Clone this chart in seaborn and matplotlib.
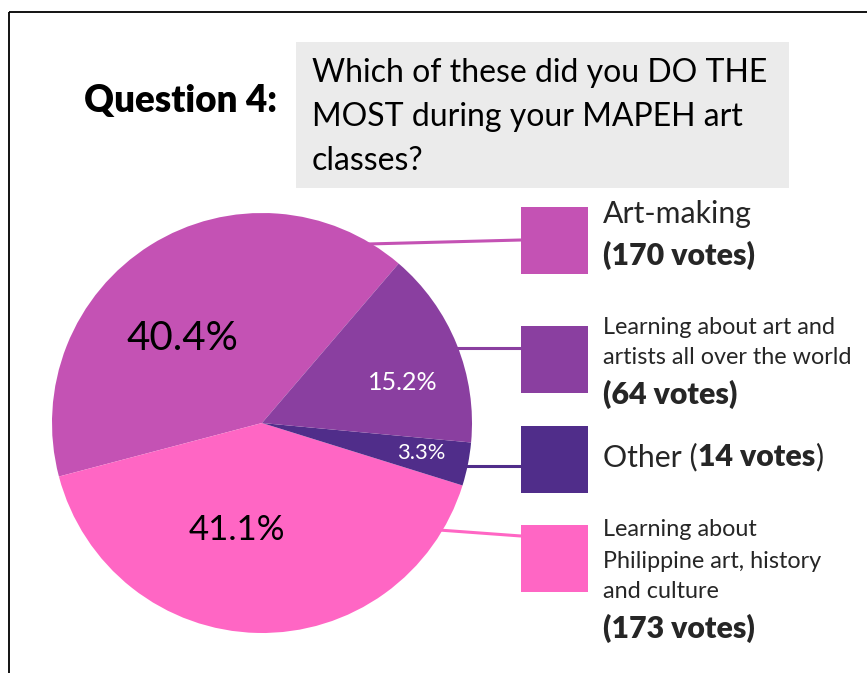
import matplotlib
matplotlib.use("Agg")
import matplotlib.pyplot as plt
import seaborn as sns
import numpy as np

# Survey answers, in the order the wedges are drawn (counter-clockwise)
categories = [
    "Art-making",
    "Learning about Philippine art, history and culture",
    "Other",
    "Learning about art and artists all over the world",
]
votes = [170, 173, 14, 64]
colors = ["#C452B4", "#FF66C4", "#502D8A", "#8A3FA0"]
label_colors = ["black", "black", "white", "white"]

question_no = "Question 4:"
question_lines = ["Which of these did you DO THE",
                  "MOST during your MAPEH art",
                  "classes?"]

sns.set_theme(style="white")
sns.set_palette(colors)
FONT = ["Lato", "DejaVu Sans"]
plt.rcParams["font.family"] = FONT

W, H = 867, 673
fig = plt.figure(figsize=(W / 100, H / 100), dpi=100)
ax = fig.add_axes([0, 0, 1, 1])
ax.set_xlim(0, W)
ax.set_ylim(0, H)
ax.set_aspect("equal")
ax.axis("off")

HEAVY = "heavy"
BIG = 21.8      # legend headline size
SMALL = 16.8    # legend description size


def Y(py):
    """Convert a top-down pixel row into axis y."""
    return H - py


# Frame lines at the top and left
ax.plot([9, W], [Y(12), Y(12)], color="black", lw=1.3, solid_capstyle="butt")
ax.plot([9, 9], [Y(12), 0], color="black", lw=1.3, solid_capstyle="butt")

# Heading
ax.text(84, Y(101), question_no, fontsize=26.5, fontweight=HEAVY,
        ha="left", va="center", color="black")
ax.add_patch(plt.Rectangle((296, Y(188)), 493, 146, color="#EBEBEB", lw=0))
for i, line in enumerate(question_lines):
    ax.text(312, Y(73 + 44 * i), line, fontsize=23, ha="left",
            va="center", color="black")

# Pie
cx, cy, r = 262, Y(423), 210
total = sum(votes)
wedges, _ = ax.pie(votes, colors=colors, startangle=49.4, counterclock=True,
                   center=(cx, cy), radius=r, frame=True,
                   wedgeprops=dict(linewidth=0))
ax.set_xlim(0, W)
ax.set_ylim(0, H)
ax.axis("off")

# Percentage labels inside the wedges
label_pos = [(182, 338, 29), (237, 530, 25), (421, 453, 15.8), (403, 382, 18)]
for v, (px, py, fs), lc in zip(votes, label_pos, label_colors):
    ax.text(px, Y(py), f"{v / total * 100:.1f}%", fontsize=fs, color=lc,
            ha="center", va="center")

# Legend boxes with connector lines
box_x, box_w = 521, 67
box_top = {"Art-making": 207, "Other": 426,
           categories[1]: 525, categories[3]: 326}
line_y = {"Art-making": (244, 240), "Other": (466, 466),
          categories[1]: (530, 536), categories[3]: (348, 348)}
for cat, col in zip(categories, colors):
    y0, y1 = line_y[cat]
    x0 = cx + np.sqrt(r ** 2 - (Y(y0) - cy) ** 2) - 4
    ax.plot([x0, box_x], [Y(y0), Y(y1)], color=col, lw=2.2,
            solid_capstyle="butt")
    ax.add_patch(plt.Rectangle((box_x, Y(box_top[cat] + box_w)), box_w, box_w,
                               color=col, lw=0))

tx = 603
ax.text(tx, Y(214), "Art-making", fontsize=BIG, ha="left", va="center")
ax.text(tx, Y(255), "(170 votes)", fontsize=BIG, fontweight=HEAVY,
        ha="left", va="center")

ax.text(tx, Y(327), "Learning about art and", fontsize=SMALL, ha="left", va="center")
ax.text(tx, Y(358), "artists all over the world", fontsize=SMALL, ha="left", va="center")
ax.text(tx, Y(394), "(64 votes)", fontsize=BIG, fontweight=HEAVY,
        ha="left", va="center")

t = ax.text(tx, Y(457), "Other (", fontsize=BIG, ha="left", va="center")
fig.canvas.draw()
bb = t.get_window_extent()
t2 = ax.text(bb.x1, Y(457), "14 votes", fontsize=BIG, fontweight=HEAVY,
             ha="left", va="center")
bb2 = t2.get_window_extent()
ax.text(bb2.x1, Y(457), ")", fontsize=BIG, ha="left", va="center")

ax.text(tx, Y(529), "Learning about", fontsize=SMALL, ha="left", va="center")
ax.text(tx, Y(561), "Philippine art, history", fontsize=SMALL, ha="left", va="center")
ax.text(tx, Y(592), "and culture", fontsize=SMALL, ha="left", va="center")
ax.text(tx, Y(628), "(173 votes)", fontsize=BIG, fontweight=HEAVY,
        ha="left", va="center")

fig.savefig("out.png", dpi=100, facecolor="white")
